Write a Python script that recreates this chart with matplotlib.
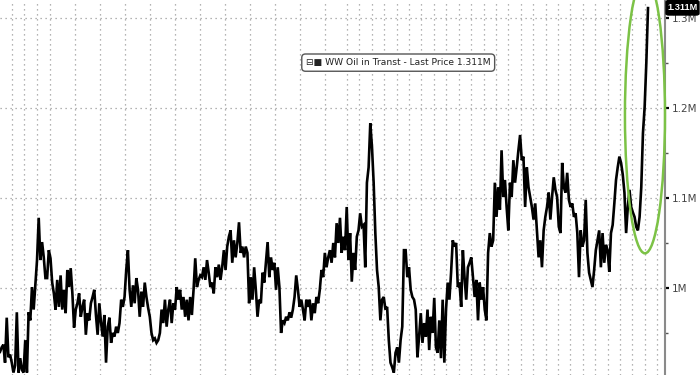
import matplotlib.pyplot as plt
import numpy as np
from matplotlib.patches import Ellipse, FancyBboxPatch
from matplotlib.ticker import FixedLocator

# WW oil in transit, millions of barrels (roughly daily)
seg_a = [0.929, 0.934, 0.937, 0.917, 0.967, 0.923, 0.926, 0.917, 0.906, 0.914, 0.973, 0.906, 0.922, 0.909, 0.906, 0.942, 0.906, 0.973, 0.964, 1.001,
         0.976, 1.003, 1.031, 1.078, 1.031, 1.051, 1.034, 1.011, 1.011, 1.042, 1.033, 1.006, 0.994, 0.976, 1.009, 0.979, 1.014, 0.976, 0.998, 0.972,
         1.020, 1.001, 1.022, 0.994, 0.956, 0.976, 0.983, 0.994, 0.968, 0.979, 0.987, 0.948, 0.972, 0.964, 0.983, 0.990, 0.998, 0.970, 0.948, 0.983,
         0.962, 0.946, 0.970, 0.917, 0.957, 0.967, 0.939, 0.950]
seg_b = [0.946, 0.957, 0.950, 0.961, 0.987, 0.979, 0.990, 1.020, 1.042, 0.998, 0.979, 1.003, 0.983, 1.011, 0.998, 0.968, 0.996, 0.979, 1.006, 0.990,
         0.978, 0.968, 0.950, 0.942, 0.944, 0.939, 0.942, 0.950, 0.976, 0.961, 0.987, 0.957, 0.976, 0.987, 0.961, 0.983, 0.976, 1.001, 0.987, 0.998,
         0.976, 0.990, 0.968, 0.987, 0.964, 0.990, 0.970, 0.998, 1.033, 1.001, 1.009, 1.014, 1.012, 1.023, 1.009, 1.031, 1.017, 1.001, 1.006, 0.994,
         1.023, 1.012, 1.026, 1.009, 1.023, 1.042]
seg_c = [1.020, 1.046, 1.057, 1.064, 1.028, 1.053, 1.034, 1.050, 1.073, 1.039, 1.046, 1.034, 1.046, 1.039, 0.983, 1.012, 0.987, 1.023, 0.998, 0.968,
         0.987, 0.983, 1.017, 1.006, 1.028, 1.051, 1.012, 1.034, 1.020, 1.028, 0.998, 1.023, 1.001, 0.950, 0.964, 0.961, 0.968, 0.964, 0.973, 0.967,
         0.976, 0.990, 1.014, 0.998, 0.979, 0.987, 0.976, 0.964, 0.987, 0.979, 0.987, 0.964, 0.983, 0.972, 0.990, 0.983, 0.998, 1.020, 1.012, 1.039,
         1.023, 1.034, 1.042, 1.028, 1.050, 1.034, 1.072]
seg_d = [1.050, 1.078, 1.039, 1.057, 1.042, 1.090, 1.031, 1.061, 1.007, 1.039, 1.020, 1.057, 1.064, 1.083, 1.068, 1.070, 1.023, 1.117, 1.134, 1.183,
         1.157, 1.117, 1.061, 1.020, 1.001, 0.964, 0.987, 0.990, 0.976, 0.979, 0.942, 0.917, 0.912, 0.906, 0.928, 0.934, 0.917, 0.942, 0.957, 1.042,
         1.042, 1.012, 1.023, 0.998, 0.990, 0.987, 0.976, 0.923, 0.946, 0.972, 0.939, 0.961, 0.946, 0.976, 0.931, 0.968, 0.950, 0.989, 0.934, 0.928,
         0.964, 0.922, 0.987, 0.917, 0.976, 1.006]
seg_e = [0.987, 1.017, 1.053, 1.046, 1.050, 1.001, 1.006, 0.979, 1.042, 1.012, 0.987, 1.023, 1.028, 1.034, 1.012, 0.990, 1.009, 0.964, 1.006, 0.987,
         1.001, 0.976, 0.964, 1.039, 1.061, 1.046, 1.053, 1.117, 1.079, 1.112, 1.087, 1.153, 1.101, 1.120, 1.090, 1.064, 1.117, 1.101, 1.142, 1.117,
         1.134, 1.153, 1.170, 1.142, 1.146, 1.090, 1.134, 1.112, 1.101, 1.090, 1.076, 1.094, 1.064, 1.034, 1.053, 1.023, 1.064, 1.079, 1.090, 1.106,
         1.076, 1.101, 1.123, 1.109, 1.101, 1.068]
seg_f = [1.061, 1.139, 1.112, 1.106, 1.128, 1.098, 1.090, 1.094, 1.079, 1.083, 1.061, 1.012, 1.064, 1.046, 1.053, 1.098, 1.039, 1.017, 1.009, 1.001,
         1.020, 1.042, 1.053, 1.064, 1.023, 1.061, 1.028, 1.048, 1.042, 1.018, 1.061, 1.070, 1.094, 1.120, 1.134, 1.146, 1.139, 1.126, 1.106, 1.061,
         1.090, 1.109, 1.090, 1.084, 1.079, 1.068, 1.064, 1.079, 1.112, 1.172, 1.201, 1.250, 1.311]

values = np.array(seg_a + seg_b + seg_c + seg_d + seg_e + seg_f)
days = np.arange(len(values))
last_price = values[-1]

y_ticks = [1.0, 1.1, 1.2, 1.3]
y_labels = ['1M', '1.1M', '1.2M', '1.3M']

# vertical dotted grid: fortnightly early on, weekly later
week_lines = [7.1, 14.3, 22.0, 29.7] + list(np.arange(44.6, 200, 14.85)) + list(np.arange(206.2, 392, 7.37))

fig = plt.figure(figsize=(7, 3.75), dpi=100)
ax = fig.add_axes([0, 0, 665 / 700, 1])

ax.plot(days, values, color='black', lw=1.9, solid_joinstyle='miter', zorder=3)

ax.set_xlim(0, 395.1)
ax.set_ylim(0.9033, 1.32)

ax.set_xticks(week_lines)
ax.tick_params(axis='x', bottom=False, labelbottom=False)
ax.grid(axis='x', color='#9a9a9a', lw=0.9, ls=(0, (1, 3)))

ax.yaxis.tick_right()
ax.set_yticks(y_ticks)
ax.set_yticklabels(y_labels)
ax.yaxis.set_minor_locator(FixedLocator([0.95, 1.05, 1.15, 1.25]))
ax.tick_params(axis='y', which='major', length=3, width=1.6, color='black', pad=2,
               labelsize=7.5, labelcolor='#444444')
ax.tick_params(axis='y', which='minor', length=2, width=1, color='#555555')
ax.grid(axis='y', color='#9a9a9a', lw=0.9, ls=(0, (1, 3)))

for s in ['top', 'left', 'bottom']:
    ax.spines[s].set_visible(False)
ax.spines['right'].set_color('#8a8a8a')
ax.spines['right'].set_linewidth(1.5)

# green ring around the latest surge
ring = Ellipse((383.2, 1.192), 23.8, 0.307, fill=False, ec='#7cc246', lw=1.8, zorder=4, clip_on=False)
ax.add_patch(ring)

# legend box
ax.text(0.46, 0.833, '\u229f\u25a0 WW Oil in Transt - Last Price ' + f'{last_price:.3f}M',
        transform=ax.transAxes, fontsize=6.6, color='#222222', va='center', ha='left', zorder=5,
        bbox=dict(boxstyle='round,pad=0.45,rounding_size=0.4', fc='white', ec='#555555', lw=1))

# last price tag on the right axis
tag = FancyBboxPatch((666 / 700, 360 / 375), 33 / 700, 14.5 / 375, transform=fig.transFigure,
                     boxstyle='round,pad=0,rounding_size=0.004', fc='black', ec='black', zorder=10)
fig.patches.append(tag)
fig.text(682.5 / 700, 367.3 / 375, f'{last_price:.3f}M', fontsize=6.6, color='white',
         family='Liberation Sans', fontweight='bold', va='center', ha='center', zorder=11)

fig.savefig('out.png', dpi=100)
